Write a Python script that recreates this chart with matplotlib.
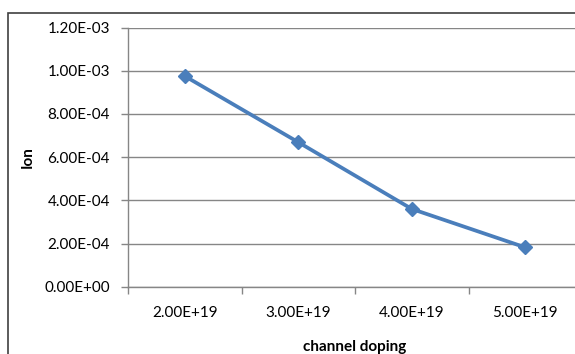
import matplotlib
matplotlib.use("Agg")
import matplotlib.pyplot as plt
from matplotlib.patches import Rectangle

categories = ["2.00E+19", "3.00E+19", "4.00E+19", "5.00E+19"]
ion = [9.75e-4, 6.69e-4, 3.60e-4, 1.82e-4]
y_ticks = [0, 2e-4, 4e-4, 6e-4, 8e-4, 1.0e-3, 1.2e-3]
y_labels = ["0.00E+00", "2.00E-04", "4.00E-04", "6.00E-04", "8.00E-04", "1.00E-03", "1.20E-03"]

plt.rcParams["font.family"] = ["Lato", "DejaVu Sans"]

W, H = 575, 354
fig = plt.figure(figsize=(W / 100, H / 100), dpi=100)

# chart area border (cropped on right and bottom)
fig.patches.append(Rectangle((8 / W, -0.1), 1.2, 1 - 13 / H + 0.1, transform=fig.transFigure,
                             fill=False, edgecolor="#404040", linewidth=1.2))

left, right, top, bottom = 128, 582, 27.5, 286.7
ax = fig.add_axes([left / W, 1 - bottom / H, (right - left) / W, (bottom - top) / H])

x = list(range(len(categories)))
ax.plot(x, ion, color="#4A7EBB", linewidth=2.7, marker="D", markersize=7,
        markerfacecolor="#4A7EBB", markeredgecolor="#4A7EBB", zorder=3)

fs = 11
ax.set_xlim(-0.5, len(categories) - 0.5)
ax.set_ylim(0, 1.2e-3)
ax.set_yticks(y_ticks)
ax.set_yticklabels(y_labels, fontsize=fs)
ax.set_xticks(x)
ax.set_xticklabels(categories, fontsize=fs)
ax.tick_params(axis="x", length=0, pad=14)
ax.set_xticks([i - 0.5 for i in range(len(categories) + 1)], minor=True)
ax.tick_params(axis="x", which="minor", length=5, color="#868686", width=1)
ax.tick_params(axis="y", length=5, color="#868686", width=1, pad=8)

ax.grid(axis="y", color="#868686", linewidth=1)
ax.set_axisbelow(True)
for s in ["top", "right"]:
    ax.spines[s].set_visible(False)
for s in ["left", "bottom"]:
    ax.spines[s].set_color("#868686")
    ax.spines[s].set_linewidth(1)

ph = bottom - top
ax.set_xlabel("channel doping", fontsize=fs, fontweight="bold")
ax.xaxis.set_label_coords(0.5, -(340 - bottom) / ph)
ax.set_ylabel("Ion", fontsize=fs, fontweight="bold")
ax.yaxis.set_label_coords(-(left - 35) / (right - left), 0.5)

fig.savefig("out.png", dpi=100)
